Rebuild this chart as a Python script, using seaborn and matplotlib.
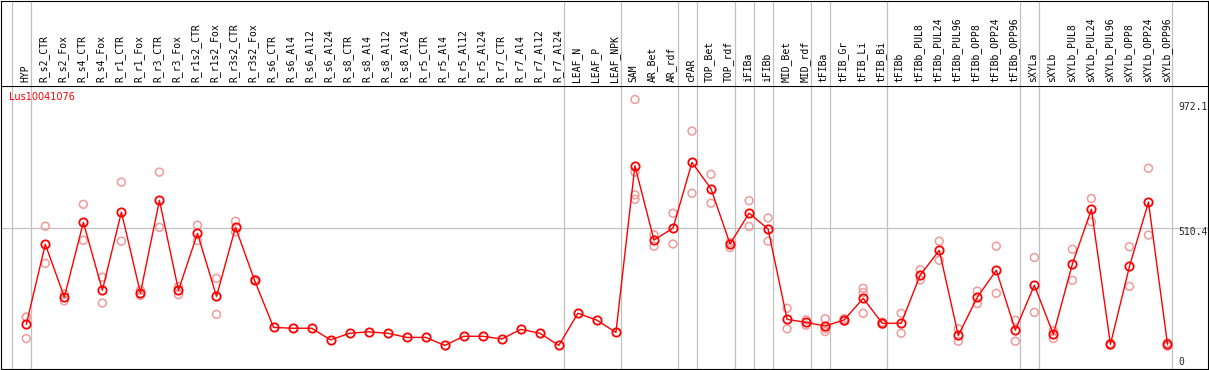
import numpy as np
import pandas as pd
import matplotlib
matplotlib.use("Agg")
import matplotlib.pyplot as plt
import seaborn as sns

# expression profile for one gene across tissues / treatments
gene = "Lus10041076"

samples = [
    "HYP", "R_s2_CTR", "R_s2_Fox", "R_s4_CTR", "R_s4_Fox", "R_r1_CTR", "R_r1_Fox",
    "R_r3_CTR", "R_r3_Fox", "R_r1s2_CTR", "R_r1s2_Fox", "R_r3s2_CTR", "R_r3s2_Fox",
    "R_s6_CTR", "R_s6_Al4", "R_s6_Al12", "R_s6_Al24", "R_s8_CTR", "R_s8_Al4",
    "R_s8_Al12", "R_s8_Al24", "R_r5_CTR", "R_r5_Al4", "R_r5_Al12", "R_r5_Al24",
    "R_r7_CTR", "R_r7_Al4", "R_r7_Al12", "R_r7_Al24", "LEAF_N", "LEAF_P", "LEAF_NPK",
    "SAM", "AR_Bet", "AR_rdf", "cPAR", "TOP_Bet", "TOP_rdf", "iFIBa", "iFIBb",
    "MID_Bet", "MID_rdf", "tFIBa", "tFIB_Gr", "tFIB_Li", "tFIB_Bi", "tFIBb",
    "tFIBb_PUL8", "tFIBb_PUL24", "tFIBb_PUL96", "tFIBb_OPP8", "tFIBb_OPP24", "tFIBb_OPP96",
    "sXYLa", "sXYLb", "sXYLb_PUL8", "sXYLb_PUL24", "sXYLb_PUL96", "sXYLb_OPP8",
    "sXYLb_OPP24", "sXYLb_OPP96",
]

mean_expr = [
    161, 450, 259, 529, 284, 566, 274, 608, 284, 489, 262, 511, 320,
    150, 147, 147, 105, 129, 134, 129, 114, 114, 85, 118, 118, 108, 143, 129, 85,
    201, 176, 132,
    733, 465, 508, 745, 650, 451, 562, 505, 179, 168, 155, 177, 255, 165, 165,
    339, 428, 121, 259, 356, 140,
    302, 125, 379, 576, 89, 370, 602, 89,
]

N = np.nan
rep_a = [
    187, 515, 246, 594, 331, 674, 284, 710, 297, 519, 327, 533, 322,
    N, N, N, N, N, N, N, N, N, N, N, N, N, N, N, N,
    N, N, N,
    972.1, 484, 562, 858, 702, 456, 607, 545, 219, 177, 181, 172, 291, 161, 201,
    358, 461, 145, 281, 443, 176,
    402, 138, 432, 615, 92, 441, 724, 94,
]
rep_b = [
    110, 381, 270, 464, 238, 461, 265, 511, 268, 463, 197, 494, 318,
    N, N, N, N, N, N, N, N, N, N, N, N, N, N, N, N,
    N, N, N,
    710, 443, 451, 634, 598, 438, 514, 461, 145, 158, 135, 182, 276, 169, 129,
    321, 392, 100, 236, 273, 100,
    204, 110, 320, 531, 86, 298, 483, 82,
]
rep_c = [
    187, N, N, N, N, N, N, N, N, N, N, N, N,
    N, N, N, N, N, N, N, N, N, N, N, N, N, N, N, N,
    N, N, N,
    628, N, N, N, N, N, N, N, N, N, 145, N, 201, N, N,
    N, N, N, N, N, N,
    N, N, N, N, N, N, N, N,
]
rep_d = [N] * 32 + [612] + [N] * 28

# last sample index of each group (vertical separators)
group_ends = [-1, 0, 28, 31, 34, 35, 37, 38, 39, 41, 42, 45, 52, 53, 60]

sns.set_style("white")
plt.rcParams["font.family"] = ["DejaVu Sans"]

W, H = 1209, 370
fig = plt.figure(figsize=(W / 100, H / 100), dpi=100)

# pixel geometry of the original page
top_px, bot_px = 86, 369
ax = fig.add_axes([1 / W, (H - bot_px) / H, 1207 / W, (bot_px - top_px) / H])
hx = fig.add_axes([1 / W, (H - top_px) / H, 1207 / W, (top_px - 0.6) / H], sharex=ax)

pos = np.arange(len(samples))
x_lo = -25.3 / 19.02
x_hi = x_lo + 1207 / 19.02
ax.set_xlim(x_lo, x_hi)

ymax = np.nanmax([np.nanmax(mean_expr), np.nanmax(rep_a), np.nanmax(rep_b),
                  np.nanmax(rep_c), np.nanmax(rep_d)])
ytop = ymax * 1.05
ax.set_ylim(0, ytop)
hx.set_ylim(0, 1)

grid_col = "#c0c0c0"
for g in group_ends:
    ax.axvline(g + 0.26, color=grid_col, lw=0.9, zorder=0)
    hx.axvline(g + 0.26, color=grid_col, lw=0.9, zorder=0)
ax.axhline(ytop / 2, color=grid_col, lw=0.9, zorder=0)

reps = pd.DataFrame({"pos": pos, "a": rep_a, "b": rep_b, "c": rep_c, "d": rep_d})
reps = reps.melt(id_vars="pos", value_name="expr").dropna()
sns.scatterplot(data=reps, x="pos", y="expr", ax=ax, marker="o",
                facecolor="none", edgecolor="#f09a9a", linewidth=1.1, s=32,
                zorder=2, legend=False)

df = pd.DataFrame({"pos": pos, "sample": samples, "expr": mean_expr})
sns.lineplot(data=df, x="pos", y="expr", ax=ax, color="#ff0000", lw=1,
             marker="o", markersize=6, markerfacecolor="none",
             markeredgecolor="#ff0000", markeredgewidth=1.3,
             sort=False, estimator=None, zorder=3)

# sample names in header strip
for p, s in zip(pos, samples):
    hx.text(p - 0.07, 0.045, s, rotation=90, ha="center", va="bottom",
            family="DejaVu Sans Mono", fontsize=7, color="black")

# right-hand value labels
lbl_x = 1177 / 1207
ax.annotate(f"{ymax:.1f}", (lbl_x, ymax), xycoords=("axes fraction", "data"),
            xytext=(0, -5.4), textcoords="offset points", va="center", ha="left",
            family="DejaVu Sans Mono", fontsize=7, annotation_clip=False)
ax.annotate(f"{ytop / 2:.1f}", (lbl_x, ytop / 2), xycoords=("axes fraction", "data"),
            xytext=(0, -2.9), textcoords="offset points", va="center", ha="left",
            family="DejaVu Sans Mono", fontsize=7)
ax.annotate("0", (lbl_x, 0), xycoords=("axes fraction", "data"),
            xytext=(0.5, 5), textcoords="offset points", va="center", ha="left",
            family="DejaVu Sans Mono", fontsize=7)

ax.text(8.5 / 1207, 1 - 11 / 283, gene, transform=ax.transAxes, color="#ff0000",
        fontsize=7, va="center", ha="left")

for a in (ax, hx):
    a.set_xlabel("")
    a.set_ylabel("")
    a.set_xticks([])
    a.set_yticks([])
    for sp in a.spines.values():
        sp.set_color("black")
        sp.set_linewidth(0.8)
hx.spines["bottom"].set_visible(False)

fig.savefig("out.png", dpi=100)
